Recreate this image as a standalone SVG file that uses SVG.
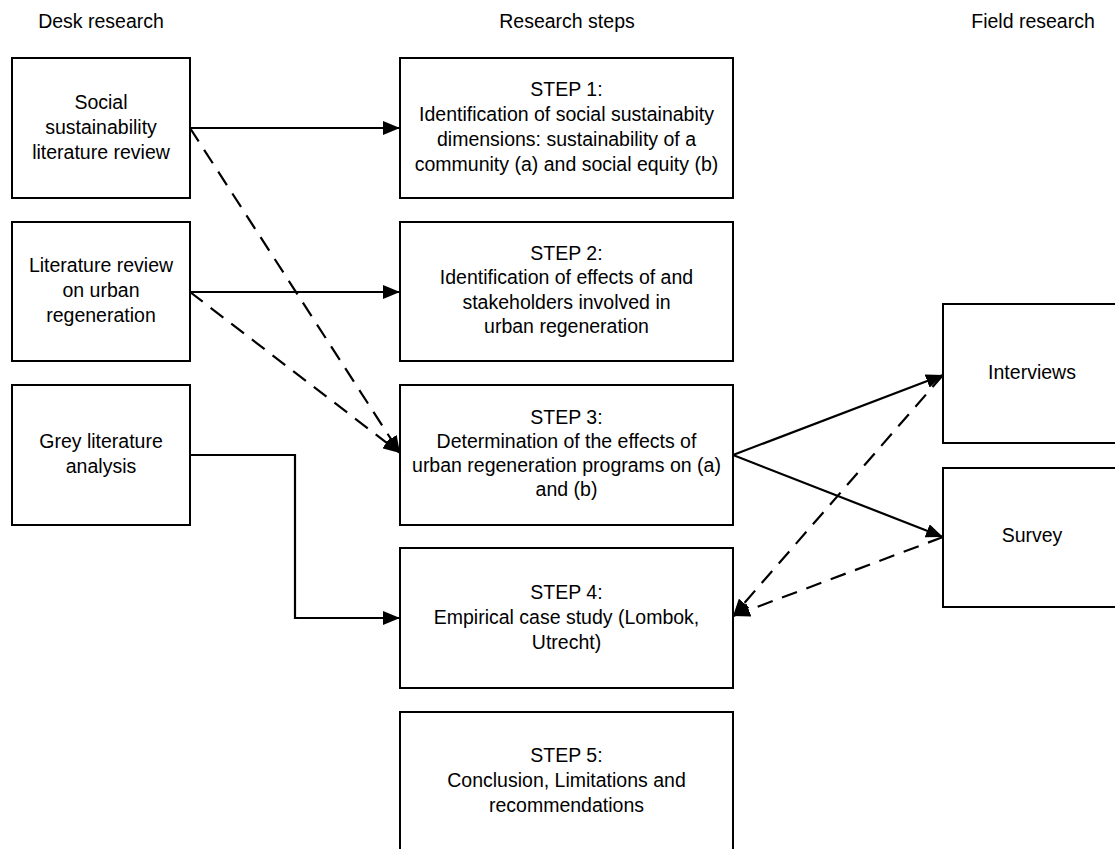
<svg xmlns="http://www.w3.org/2000/svg" width="1115" height="849" viewBox="0 0 1115 849">
  <style>
    .box { fill: #ffffff; stroke: #000000; stroke-width: 2; }
    .lbl { font-family: "Liberation Sans", Arial, sans-serif; font-size: 19.5px; fill: #000000; text-anchor: middle; }
    .hdr { font-family: "Liberation Sans", Arial, sans-serif; font-size: 19.5px; fill: #000000; text-anchor: middle; }
    .solid { fill: none; stroke: #000000; stroke-width: 2.2; marker-end: url(#arrow); }
    .dash { fill: none; stroke: #000000; stroke-width: 2.2; stroke-dasharray: 16 10; marker-end: url(#arrow); }
  </style>
  <defs>
    <marker id="arrow" markerUnits="userSpaceOnUse" markerWidth="18" markerHeight="14" refX="17" refY="7" orient="auto">
      <path d="M0,0 L17,7 L0,14 z" fill="#000000"/>
    </marker>
  </defs>
  <rect width="1115" height="849" fill="#ffffff"/>

  <!-- column headings -->
  <g id="headings">
    <text class="hdr" x="101" y="28">Desk research</text>
    <text class="hdr" x="567" y="28">Research steps</text>
    <text class="hdr" x="1033" y="28">Field research</text>
  </g>

  <!-- desk research sources -->
  <g id="social-review">
    <rect class="box" x="12" y="58" width="178" height="140"/>
    <text class="lbl" x="101" y="109">Social</text>
    <text class="lbl" x="101" y="134">sustainability</text>
    <text class="lbl" x="101" y="159">literature review</text>
  </g>
  <g id="urban-review">
    <rect class="box" x="12" y="222" width="178" height="139"/>
    <text class="lbl" x="101" y="272">Literature review</text>
    <text class="lbl" x="101" y="297">on urban</text>
    <text class="lbl" x="101" y="322">regeneration</text>
  </g>
  <g id="grey-literature">
    <rect class="box" x="12" y="385" width="178" height="140"/>
    <text class="lbl" x="101" y="448">Grey literature</text>
    <text class="lbl" x="101" y="473">analysis</text>
  </g>

  <!-- research steps -->
  <g id="step1">
    <rect class="box" x="400" y="58" width="333" height="140"/>
    <text class="lbl" x="566.5" y="96">STEP 1:</text>
    <text class="lbl" x="566.5" y="121">Identification of social sustainabity</text>
    <text class="lbl" x="566.5" y="146">dimensions: sustainability of a</text>
    <text class="lbl" x="566.5" y="171">community (a) and social equity (b)</text>
  </g>
  <g id="step2">
    <rect class="box" x="400" y="222" width="333" height="139"/>
    <text class="lbl" x="566.5" y="260">STEP 2:</text>
    <text class="lbl" x="566.5" y="284">Identification of effects of and</text>
    <text class="lbl" x="566.5" y="308.5">stakeholders involved in</text>
    <text class="lbl" x="566.5" y="333">urban regeneration</text>
  </g>
  <g id="step3">
    <rect class="box" x="400" y="385" width="333" height="140"/>
    <text class="lbl" x="566.5" y="424">STEP 3:</text>
    <text class="lbl" x="566.5" y="448">Determination of the effects of</text>
    <text class="lbl" x="566.5" y="472">urban regeneration programs on (a)</text>
    <text class="lbl" x="566.5" y="496">and (b)</text>
  </g>
  <g id="step4">
    <rect class="box" x="400" y="548" width="333" height="140"/>
    <text class="lbl" x="566.5" y="599">STEP 4:</text>
    <text class="lbl" x="566.5" y="624">Empirical case study (Lombok,</text>
    <text class="lbl" x="566.5" y="649">Utrecht)</text>
  </g>
  <g id="step5">
    <rect class="box" x="400" y="712" width="333" height="142"/>
    <text class="lbl" x="566.5" y="762">STEP 5:</text>
    <text class="lbl" x="566.5" y="787">Conclusion, Limitations and</text>
    <text class="lbl" x="566.5" y="812">recommendations</text>
  </g>

  <!-- field research -->
  <g id="interviews">
    <rect class="box" x="943" y="304" width="180" height="139"/>
    <text class="lbl" x="1032" y="379">Interviews</text>
  </g>
  <g id="survey">
    <rect class="box" x="943" y="468" width="180" height="139"/>
    <text class="lbl" x="1032" y="542">Survey</text>
  </g>

  <!-- connectors -->
  <g id="connectors">
    <path class="solid" d="M190,128 L400,128"/>
    <path class="solid" d="M190,292 L400,292"/>
    <path class="dash" d="M190,128 L400,453"/>
    <path class="dash" d="M190,292 L400,453"/>
    <path class="solid" d="M190,455 L295,455 L295,618 L400,618"/>
    <path class="solid" d="M733,455 L943,375"/>
    <path class="solid" d="M733,455 L943,537"/>
    <path class="dash" d="M943,375 L733,616"/>
    <path class="dash" d="M943,537 L733,616"/>
  </g>
</svg>
